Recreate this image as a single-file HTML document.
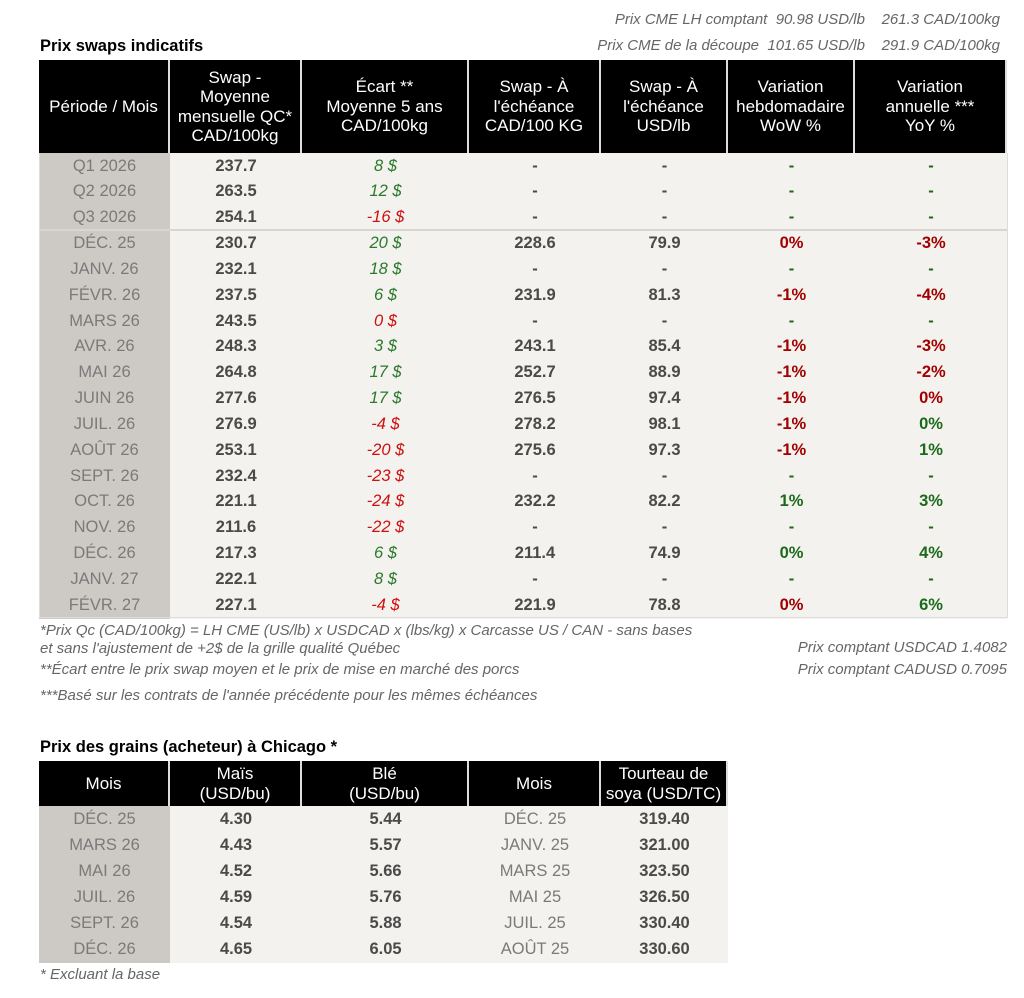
<!DOCTYPE html>
<html><head><meta charset="utf-8">
<style>
body{margin:0;width:1024px;height:998px;background:#fff;font-family:"Liberation Sans",Arial,sans-serif;position:relative;overflow:hidden}
.a{position:absolute}
.t{font-weight:bold;font-size:16.5px;color:#000}
.it{font-style:italic;color:#666;font-size:15px;white-space:nowrap}
.c{position:absolute;display:flex;align-items:center;justify-content:center;text-align:center;box-sizing:border-box;font-size:16.5px;line-height:19.5px;white-space:nowrap}
.h{background:#000;color:#fff;border-right:2px solid #ddd;font-size:17px}
.p{background:#cdcac5;color:#7a7a7a}
.b{background:#f4f2ee;color:#4a4a4a;font-weight:bold}
.m{background:#f4f2ee;color:#7a7a7a}
.g{color:#2a7a2a;font-style:italic;font-weight:normal}
.r{color:#cc1010;font-style:italic;font-weight:normal}
.pg{color:#1a6a1a}
.pr{color:#a00000}
</style></head><body>
<div class="a it" style="right:24px;top:11px">Prix CME LH comptant &nbsp;90.98 USD/lb &nbsp;&nbsp; 261.3 CAD/100kg</div>
<div class="a it" style="right:24px;top:37px">Prix CME de la découpe &nbsp;101.65 USD/lb &nbsp;&nbsp; 291.9 CAD/100kg</div>
<div class="a t" style="left:40px;top:37px">Prix swaps indicatifs</div>
<div id="swap"></div>
<div class="a it" style="left:40px;top:622px;line-height:18px">*Prix Qc (CAD/100kg) = LH CME (US/lb) x USDCAD x (lbs/kg) x Carcasse US / CAN - sans bases<br>et sans l'ajustement de +2$ de la grille qualité Québec</div>
<div class="a it" style="left:40px;top:661px">**Écart entre le prix swap moyen et le prix de mise en marché des porcs</div>
<div class="a it" style="left:40px;top:687px">***Basé sur les contrats de l'année précédente pour les mêmes échéances</div>
<div class="a it" style="right:17px;top:639px">Prix comptant USDCAD 1.4082</div>
<div class="a it" style="right:17px;top:661px">Prix comptant CADUSD 0.7095</div>
<div class="a t" style="left:40px;top:738px">Prix des grains (acheteur) à Chicago *</div>
<div id="grain"></div>
<div class="a it" style="left:40px;top:966px">* Excluant la base</div>
<script>
const periods=["Q1 2026","Q2 2026","Q3 2026","DÉC. 25","JANV. 26","FÉVR. 26","MARS 26","AVR. 26","MAI 26","JUIN 26","JUIL. 26","AOÛT 26","SEPT. 26","OCT. 26","NOV. 26","DÉC. 26","JANV. 27","FÉVR. 27"];
const swapAvg=["237.7","263.5","254.1","230.7","232.1","237.5","243.5","248.3","264.8","277.6","276.9","253.1","232.4","221.1","211.6","217.3","222.1","227.1"];
const ecart=[8,12,-16,20,18,6,0,3,17,17,-4,-20,-23,-24,-22,6,8,-4];
const ecartPos=[1,1,0,1,1,1,0,1,1,1,0,0,0,0,0,1,1,0];
const swapCad=["-","-","-","228.6","-","231.9","-","243.1","252.7","276.5","278.2","275.6","-","232.2","-","211.4","-","221.9"];
const swapUsd=["-","-","-","79.9","-","81.3","-","85.4","88.9","97.4","98.1","97.3","-","82.2","-","74.9","-","78.8"];
const wow=["-","-","-","0%","-","-1%","-","-1%","-1%","-1%","-1%","-1%","-","1%","-","0%","-","0%"];
const wowPos=[0,0,0,0,0,0,0,0,0,0,0,0,0,1,0,1,0,0];
const yoy=["-","-","-","-3%","-","-4%","-","-3%","-2%","0%","0%","1%","-","3%","-","4%","-","6%"];
const yoyPos=[0,0,0,0,0,0,0,0,0,0,1,1,0,1,0,1,0,1];
const swapHeaders=["Période / Mois","Swap -<br>Moyenne<br>mensuelle QC*<br>CAD/100kg","Écart **<br>Moyenne 5 ans<br>CAD/100kg","Swap - À<br>l'échéance<br>CAD/100 KG","Swap - À<br>l'échéance<br>USD/lb","Variation<br>hebdomadaire<br>WoW %","Variation<br>annuelle ***<br>YoY %"];
const grainMonths=["DÉC. 25","MARS 26","MAI 26","JUIL. 26","SEPT. 26","DÉC. 26"];
const corn=["4.30","4.43","4.52","4.59","4.54","4.65"];
const wheat=["5.44","5.57","5.66","5.76","5.88","6.05"];
const soyMonths=["DÉC. 25","JANV. 25","MARS 25","MAI 25","JUIL. 25","AOÛT 25"];
const soy=["319.40","321.00","323.50","326.50","330.40","330.60"];
const grainHeaders=["Mois","Maïs<br>(USD/bu)","Blé<br>(USD/bu)","Mois","Tourteau de<br>soya (USD/TC)"];

const cols=[39,170,302,469,601,728,855,1007];
function cell(parent,x,y,w,h,cls,html,name){
  const d=document.createElement('div');
  d.className='c '+cls;
  d.style.left=x+'px';d.style.top=y+'px';d.style.width=w+'px';d.style.height=h+'px';
  d.innerHTML=html;
  
  
  parent.appendChild(d);return d;
}
const sw=document.getElementById('swap');
swapHeaders.forEach((h,i)=>cell(sw,cols[i],60,cols[i+1]-cols[i],93,'h',h,'swap-header-'+i));
const rh=25.83;
periods.forEach((p,r)=>{
  const y=153+r*rh;
  cell(sw,cols[0],y,cols[1]-cols[0],rh+1,'p',p,'period-'+r);
  cell(sw,cols[1],y,cols[2]-cols[1],rh+1,'b',swapAvg[r],'swap-avg-'+r);
  cell(sw,cols[2],y,cols[3]-cols[2],rh+1,'b '+(ecartPos[r]?'g':'r'),ecart[r]+' $','ecart-'+r);
  cell(sw,cols[3],y,cols[4]-cols[3],rh+1,'b',swapCad[r],'swap-cad-'+r);
  cell(sw,cols[4],y,cols[5]-cols[4],rh+1,'b',swapUsd[r],'swap-usd-'+r);
  cell(sw,cols[5],y,cols[6]-cols[5],rh+1,'b '+(wow[r]==='-'?'pg':(wowPos[r]?'pg':'pr')),wow[r],'wow-'+r);
  cell(sw,cols[6],y,cols[7]-cols[6],rh+1,'b '+(yoy[r]==='-'?'pg':(yoyPos[r]?'pg':'pr')),yoy[r],'yoy-'+r);
});
const sep=document.createElement('div');
sep.className='a';sep.style.cssText='left:39px;top:229px;width:968px;height:2px;background:#d8d6d2';


sw.appendChild(sep);
const bd=document.createElement('div');
bd.className='a';bd.style.cssText='left:39px;top:153px;width:967px;height:464px;border:1px solid #ddd;border-top:none;box-sizing:content-box';


sw.appendChild(bd);

const gr=document.getElementById('grain');
const gc=[39,170,302,469,601,728];
grainHeaders.forEach((h,i)=>cell(gr,gc[i],761,gc[i+1]-gc[i],45,'h',h,'grain-header-'+i));
grainMonths.forEach((m,r)=>{
  const y=806+r*26;
  cell(gr,gc[0],y,gc[1]-gc[0],27,'p',m,'grain-month-'+r);
  cell(gr,gc[1],y,gc[2]-gc[1],27,'b',corn[r],'corn-'+r);
  cell(gr,gc[2],y,gc[3]-gc[2],27,'b',wheat[r],'wheat-'+r);
  cell(gr,gc[3],y,gc[4]-gc[3],27,'m',soyMonths[r],'soy-month-'+r);
  cell(gr,gc[4],y,gc[5]-gc[4],27,'b',soy[r],'soy-'+r);
});
</script>
</body></html>
